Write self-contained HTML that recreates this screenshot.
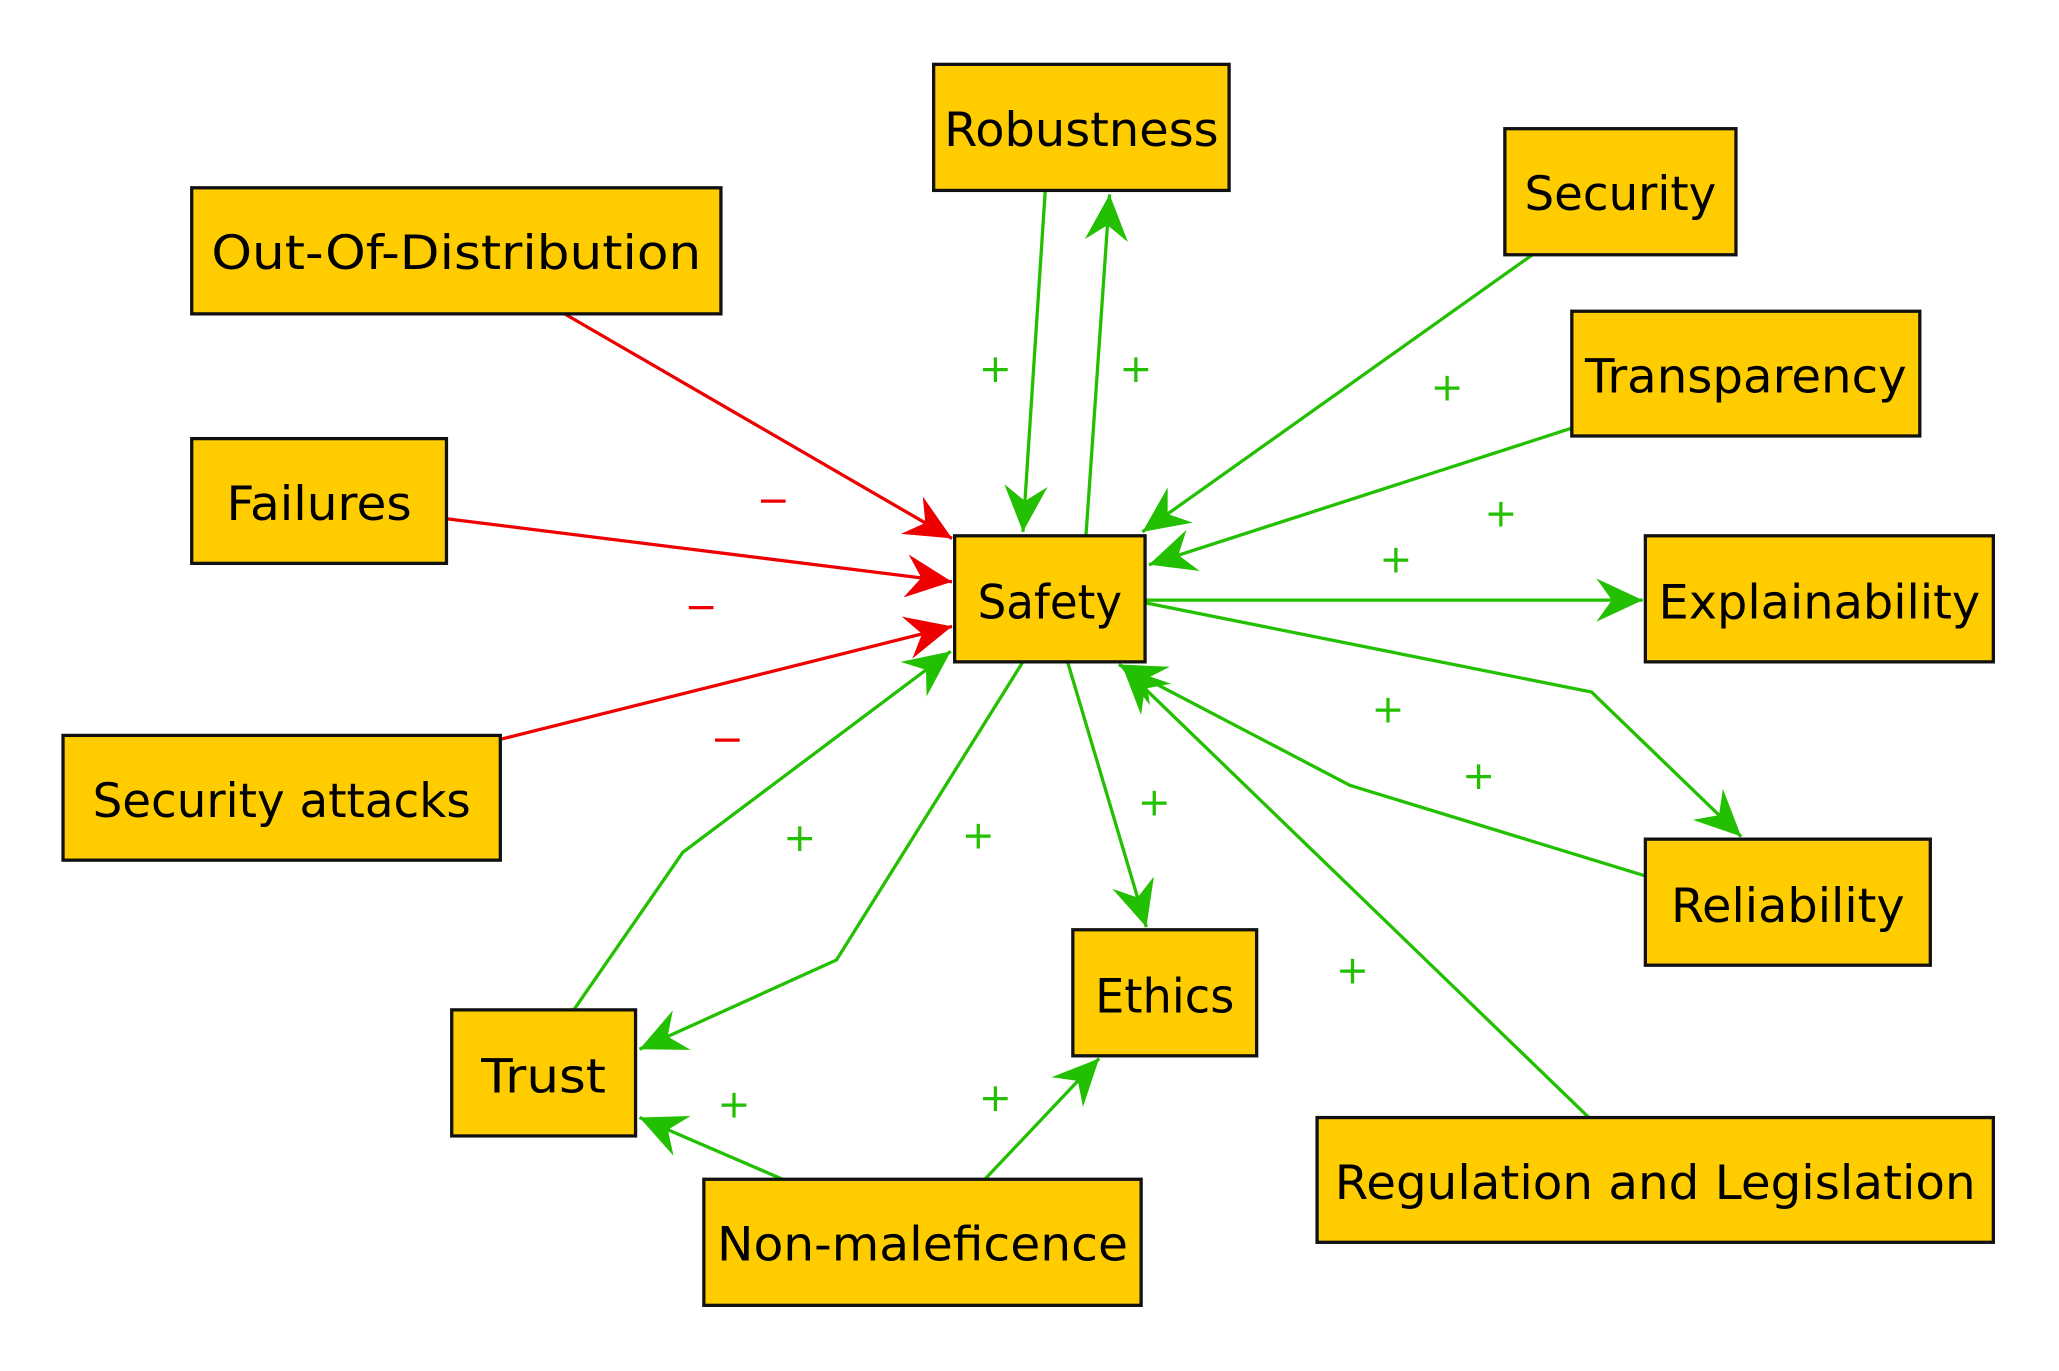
<!DOCTYPE html>
<html><head><meta charset="utf-8"><style>html,body{margin:0;padding:0;background:#fff}svg{display:block}</style></head>
<body>
<svg width="2059" height="1371" viewBox="0 0 1568 1044" preserveAspectRatio="none" xmlns="http://www.w3.org/2000/svg">
<defs>
<marker id="g" markerUnits="userSpaceOnUse" markerWidth="40" markerHeight="40" viewBox="-32 -16 34 32" refX="0" refY="0" orient="auto"><path d="M0,0 L-30,-14 L-20,0 L-30,14 Z" fill="#22c000"/></marker>
<marker id="r" markerUnits="userSpaceOnUse" markerWidth="40" markerHeight="40" viewBox="-32 -16 34 32" refX="0" refY="0" orient="auto"><path d="M0,0 L-30,-14 L-20,0 L-30,14 Z" fill="#ee0000"/></marker>
</defs>
<g fill="none" stroke-width="2.5">
<g stroke="#ee0000" marker-end="url(#r)">
<path d="M430,239 L725,410"/>
<path d="M340,395 L725,443"/>
<path d="M381,563 L725,477"/>
</g>
<g stroke="#22c000" marker-end="url(#g)">
<path d="M796,145 L779,405"/>
<path d="M827,408 L845,148"/>
<path d="M1167,194 L870,405"/>
<path d="M1197,326 L875,430"/>
<path d="M872,457 L1251,457"/>
<path d="M872,459 L1212,527 L1326,637"/>
<path d="M1253,667 L1028,598 L852,506"/>
<path d="M1210,851 L855,508"/>
<path d="M813,504 L873,706"/>
<path d="M779,504 L637,731 L487,799"/>
<path d="M437,769 L520,649 L724,496"/>
<path d="M596,898 L487,851"/>
<path d="M750,898 L837,806"/>
</g>
</g>
<g fill="#ffcc00" stroke="#111" stroke-width="2.5">
<rect x="711" y="49" width="225" height="96"/>
<rect x="146" y="143" width="403" height="96"/>
<rect x="1146" y="98" width="176" height="96"/>
<rect x="1197" y="237" width="265" height="95"/>
<rect x="146" y="334" width="194" height="95"/>
<rect x="727" y="408" width="145" height="96"/>
<rect x="1253" y="408" width="265" height="96"/>
<rect x="48" y="560" width="333" height="95"/>
<rect x="1253" y="639" width="217" height="96"/>
<rect x="817" y="708" width="140" height="96"/>
<rect x="344" y="769" width="140" height="96"/>
<rect x="1003" y="851" width="515" height="95"/>
<rect x="536" y="898" width="333" height="96"/>
</g>
<g font-family="'DejaVu Sans','Liberation Sans',sans-serif" font-size="36" fill="#000" text-anchor="middle">
<text x="823.5" y="111" textLength="209" lengthAdjust="spacingAndGlyphs">Robustness</text>
<text x="347.5" y="205" textLength="373" lengthAdjust="spacingAndGlyphs">Out-Of-Distribution</text>
<text x="1234" y="160" textLength="146" lengthAdjust="spacingAndGlyphs">Security</text>
<text x="1329.5" y="299" textLength="245" lengthAdjust="spacingAndGlyphs">Transparency</text>
<text x="243" y="396" textLength="141" lengthAdjust="spacingAndGlyphs">Failures</text>
<text x="799.5" y="471" textLength="110" lengthAdjust="spacingAndGlyphs">Safety</text>
<text x="1385.5" y="471" textLength="245" lengthAdjust="spacingAndGlyphs">Explainability</text>
<text x="214.5" y="622" textLength="288" lengthAdjust="spacingAndGlyphs">Security attacks</text>
<text x="1361.5" y="702" textLength="178" lengthAdjust="spacingAndGlyphs">Reliability</text>
<text x="887" y="771" textLength="106" lengthAdjust="spacingAndGlyphs">Ethics</text>
<text x="414" y="832" textLength="95" lengthAdjust="spacingAndGlyphs">Trust</text>
<text x="1260.5" y="913" textLength="488" lengthAdjust="spacingAndGlyphs">Regulation and Legislation</text>
<text x="702.5" y="960" textLength="313" lengthAdjust="spacingAndGlyphs">Non-maleficence</text>
</g>
<g font-family="'DejaVu Sans','Liberation Sans',sans-serif" font-size="30" text-anchor="middle">
<g fill="#ee0000">
<text x="589" y="391">−</text><text x="534" y="472">−</text><text x="554" y="573">−</text>
</g>
<g fill="#22c000">
<text x="758" y="291">+</text><text x="865" y="291">+</text><text x="1102" y="305">+</text>
<text x="1143" y="401">+</text><text x="1063" y="436">+</text><text x="1057" y="550">+</text>
<text x="1126" y="601">+</text><text x="879" y="621">+</text><text x="745" y="646">+</text>
<text x="609" y="648">+</text><text x="1030" y="749">+</text><text x="559" y="851">+</text>
<text x="758" y="846">+</text>
</g>
</g>
</svg>
</body></html>
